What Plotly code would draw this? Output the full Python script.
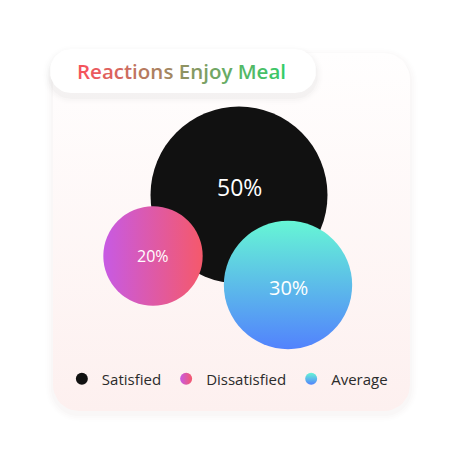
import math
import plotly.graph_objects as go

# ---------------- DATA ----------------
categories = ["Satisfied", "Dissatisfied", "Average"]
values = [50, 20, 30]
value_labels = ["50%", "20%", "30%"]
title_text = "Reactions Enjoy Meal"

# ---------------- LAYOUT / STYLE ----------------
W, H = 464, 459
bubble_pos_x = [239, 153, 288]
bubble_pos_y = [195, 256, 285]
label_yshift = [8, 0, -2]
label_font_size = [23, 16, 20]
base_color = ["#111111", "#c75ae4", "#66f6d5"]
grad_color = ["#111111", "#f5596b", "#5282fd"]
grad_type = ["none", "horizontal", "vertical"]
FONT = "Open Sans"


def bubble_diameter(v, vmax=max(values), dmax=177.0, p=0.63):
    return dmax * (v / vmax) ** p


def rr_points(x0, y0, x1, y1, r, n=10):
    xs, ys = [], []
    corners = [
        (x1 - r, y0 + r, -90, 0),
        (x1 - r, y1 - r, 0, 90),
        (x0 + r, y1 - r, 90, 180),
        (x0 + r, y0 + r, 180, 270),
    ]
    for cx, cy, a0, a1 in corners:
        for i in range(n + 1):
            a = math.radians(a0 + (a1 - a0) * i / n)
            xs.append(cx + r * math.cos(a))
            ys.append(cy + r * math.sin(a))
    xs.append(xs[0])
    ys.append(ys[0])
    return xs, ys


def rr_path(x0, y0, x1, y1, r):
    xs, ys = rr_points(x0, y0, x1, y1, r)
    return "M " + " L ".join(f"{a:.2f},{b:.2f}" for a, b in zip(xs, ys)) + " Z"


fig = go.Figure()

# shadows (below traces)
shapes = []
card = (53, 53, 410, 411, 26)
pill = (50, 49, 316, 93, 21)
for i, a in enumerate([0.014, 0.010, 0.007, 0.004]):
    g = 2 * (i + 1)
    shapes.append(dict(type="path", xref="x", yref="y", layer="below",
                       path=rr_path(card[0] - g, card[1] - g + 3, card[2] + g, card[3] + g + 3, card[4] + g),
                       fillcolor=f"rgba(120,60,60,{a})", line=dict(width=0)))

# card with vertical gradient (white at top, soft pink at bottom)
cx, cy = rr_points(*card)
fig.add_trace(go.Scatter(
    x=cx, y=cy, mode="lines", fill="toself", line=dict(width=0),
    fillgradient=dict(type="vertical", colorscale=[[0, "#fdf0ef"], [1, "#fffefe"]]),
    hoverinfo="skip", showlegend=False))

# pill shadow
for i, a in enumerate([0.018, 0.012, 0.008, 0.005]):
    g = 2 * (i + 1)
    px, py = rr_points(pill[0] - g, pill[1] - g + 4, pill[2] + g, pill[3] + g + 4, pill[4] + g)
    fig.add_trace(go.Scatter(x=px, y=py, mode="lines", fill="toself", line=dict(width=0),
                             fillcolor=f"rgba(0,0,0,{a})", hoverinfo="skip", showlegend=False))
px, py = rr_points(*pill)
fig.add_trace(go.Scatter(x=px, y=py, mode="lines", fill="toself", line=dict(width=0),
                         fillcolor="#ffffff", hoverinfo="skip", showlegend=False))

# bubbles
for i, cat in enumerate(categories):
    marker = dict(size=[bubble_diameter(values[i])], sizemode="diameter",
                  color=base_color[i], line=dict(width=0), opacity=1)
    if grad_type[i] != "none":
        marker["gradient"] = dict(type=grad_type[i], color=grad_color[i])
    fig.add_trace(go.Scatter(
        x=[bubble_pos_x[i]], y=[bubble_pos_y[i]], mode="markers", name=cat,
        marker=marker, hoverinfo="skip"))

annotations = []
for i, lab in enumerate(value_labels):
    annotations.append(dict(x=bubble_pos_x[i], y=bubble_pos_y[i], xref="x", yref="y",
                            text=lab, showarrow=False, yshift=label_yshift[i],
                            font=dict(family=FONT, size=label_font_size[i], color="#ffffff")))

# title with red->green gradient per letter
c0 = (244, 84, 92)
c1 = (52, 204, 104)
n = len(title_text)
spans = []
for k, ch in enumerate(title_text):
    t = k / (n - 1)
    col = tuple(round(c0[j] + (c1[j] - c0[j]) * t) for j in range(3))
    spans.append(f'<span style="color:rgb{col}">{ch}</span>')
annotations.append(dict(x=75, y=71, xref="x", yref="y", xanchor="left", yanchor="middle",
                        text="".join(spans), showarrow=False,
                        font=dict(family=FONT, size=20.5, weight=600)))

fig.update_layout(
    width=W, height=H, margin=dict(l=0, r=0, t=0, b=0),
    paper_bgcolor="#ffffff", plot_bgcolor="rgba(0,0,0,0)",
    xaxis=dict(range=[0, W], visible=False, fixedrange=True),
    yaxis=dict(range=[H, 0], visible=False, fixedrange=True),
    shapes=shapes, annotations=annotations,
    showlegend=True,
    legend=dict(orientation="h", x=0.49, xanchor="center", y=1 - 379 / H, yanchor="middle",
                bgcolor="rgba(0,0,0,0)", itemsizing="constant",
                font=dict(family=FONT, size=15, color="#2b2b2b"), itemclick=False,
                itemdoubleclick=False),
    hovermode=False,
)

fig.write_html("out.html", config={"displayModeBar": False})
